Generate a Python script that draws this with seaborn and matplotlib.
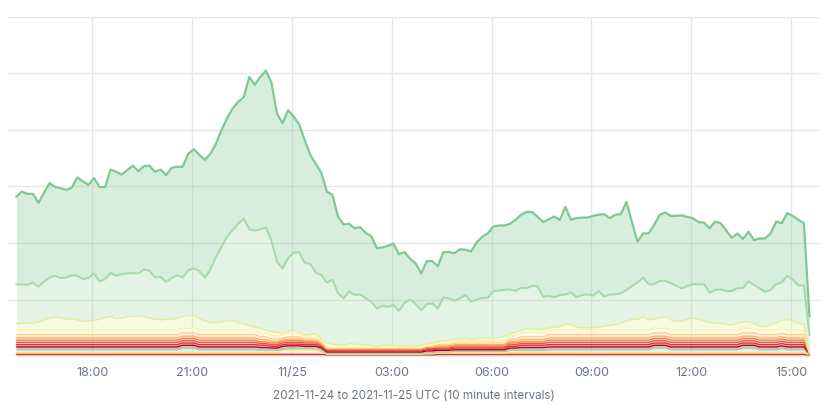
import numpy as np
import pandas as pd
import matplotlib
matplotlib.use("Agg")
import matplotlib.pyplot as plt
import matplotlib.dates as mdates
from matplotlib.ticker import FuncFormatter
import seaborn as sns

# 10 minute samples, 2021-11-24 15:43 -> 2021-11-25 15:33 UTC
times = pd.date_range("2021-11-24 15:43", periods=144, freq="10min")

# top line (all requests) and the second line
total = [
    282, 291, 287, 287, 271, 289, 306, 299, 297, 294, 298, 316,
    309, 303, 315, 299, 299, 330, 326, 321, 329, 337, 327, 336,
    337, 326, 330, 320, 333, 335, 335, 358, 366, 356, 347, 358,
    376, 400, 421, 438, 450, 458, 494, 480, 494, 505, 484, 429,
    412, 435, 424, 410, 382, 356, 340, 324, 291, 285, 247, 233,
    234, 226, 228, 218, 212, 191, 192, 195, 199, 180, 184, 172,
    164, 146, 168, 168, 159, 184, 184, 182, 189, 188, 185, 201,
    211, 217, 229, 231, 231, 234, 241, 250, 255, 255, 246, 237,
    242, 247, 241, 264, 241, 244, 245, 245, 248, 250, 251, 244,
    250, 251, 273, 237, 202, 217, 217, 232, 250, 254, 248, 248,
    249, 246, 244, 237, 236, 226, 238, 235, 222, 209, 217, 207,
    220, 205, 208, 208, 217, 238, 235, 253, 248, 241, 235, 70,
]
second = [
    127, 127, 126, 130, 123, 132, 139, 142, 138, 139, 143, 142,
    136, 138, 146, 132, 136, 147, 142, 145, 146, 147, 146, 153,
    151, 139, 140, 131, 138, 143, 139, 152, 155, 150, 139, 153,
    176, 193, 211, 223, 234, 243, 224, 222, 224, 228, 204, 167,
    155, 173, 183, 184, 165, 163, 148, 143, 130, 135, 111, 102,
    114, 108, 109, 102, 96, 84, 89, 87, 90, 80, 94, 100,
    92, 81, 92, 93, 84, 104, 102, 98, 102, 108, 96, 100,
    103, 103, 115, 116, 117, 118, 115, 121, 120, 124, 123, 105,
    106, 104, 108, 109, 113, 104, 108, 109, 107, 115, 105, 109,
    109, 111, 117, 124, 130, 139, 127, 127, 133, 133, 129, 124,
    120, 124, 127, 127, 127, 112, 117, 118, 115, 115, 120, 120,
    132, 126, 120, 114, 117, 127, 130, 142, 135, 125, 125, 37,
]

# thin buckets at the bottom, stacked bottom -> top
b01 = [
    3, 3, 3, 3, 3, 3, 3, 3, 3, 3, 3, 3,
    3, 3, 3, 3, 3, 3, 3, 3, 3, 3, 3, 3,
    3, 3, 3, 3, 3, 3, 3, 3, 3, 3, 3, 3,
    3, 3, 3, 3, 3, 3, 3, 3, 3, 3, 3, 3,
    3, 3, 3, 3, 3, 3, 3, 3, 2, 2, 2, 2,
    2, 2, 2, 2, 2, 2, 2, 2, 2, 2, 2, 2,
    2, 2, 2, 2, 3, 3, 3, 3, 3, 3, 3, 3,
    3, 3, 3, 3, 3, 3, 3, 3, 3, 3, 3, 3,
    3, 3, 3, 3, 3, 3, 3, 3, 3, 3, 3, 3,
    3, 3, 3, 3, 3, 3, 3, 3, 3, 3, 3, 3,
    3, 3, 3, 3, 3, 3, 3, 3, 3, 3, 3, 3,
    3, 3, 3, 3, 3, 3, 3, 3, 3, 3, 3, 1,
]
b02 = [
    3, 3, 3, 3, 3, 3, 3, 3, 3, 3, 3, 3,
    3, 3, 3, 3, 3, 3, 3, 3, 3, 3, 3, 3,
    3, 3, 3, 3, 3, 3, 3, 3, 3, 3, 3, 3,
    3, 3, 3, 3, 3, 3, 3, 3, 3, 3, 3, 3,
    7, 8, 8, 8, 8, 8, 8, 5, 1, 1, 1, 1,
    1, 1, 1, 1, 1, 1, 1, 1, 1, 1, 1, 1,
    1, 1, 2, 2, 2, 2, 2, 2, 2, 2, 2, 2,
    2, 2, 2, 2, 2, 3, 3, 3, 3, 3, 3, 3,
    3, 3, 3, 3, 3, 3, 3, 3, 3, 3, 3, 3,
    3, 3, 3, 3, 3, 3, 3, 3, 3, 3, 3, 3,
    3, 3, 3, 3, 3, 3, 3, 3, 3, 3, 3, 3,
    3, 3, 3, 3, 3, 3, 3, 3, 3, 3, 3, 1,
]
b03 = [
    5, 5, 5, 5, 5, 5, 5, 5, 5, 5, 5, 5,
    5, 5, 5, 5, 5, 5, 5, 5, 5, 5, 5, 5,
    5, 5, 5, 5, 5, 5, 8, 8, 8, 5, 5, 5,
    5, 5, 5, 5, 5, 5, 5, 5, 4, 4, 4, 4,
    2, 2, 2, 2, 2, 2, 2, 2, 1, 1, 1, 1,
    1, 1, 1, 1, 1, 1, 1, 1, 1, 1, 1, 1,
    1, 1, 2, 2, 2, 2, 2, 3, 3, 3, 3, 3,
    3, 3, 3, 3, 3, 4, 4, 4, 4, 4, 4, 4,
    5, 5, 5, 5, 5, 5, 5, 5, 5, 5, 5, 5,
    5, 5, 5, 5, 5, 5, 5, 8, 8, 8, 5, 5,
    5, 5, 5, 5, 5, 5, 5, 5, 5, 5, 5, 8,
    8, 8, 5, 5, 5, 5, 7, 5, 5, 5, 5, 1,
]
b04 = [
    5, 5, 5, 5, 5, 5, 5, 5, 5, 5, 5, 5,
    5, 5, 5, 5, 5, 5, 5, 5, 5, 5, 5, 5,
    5, 5, 5, 5, 5, 5, 5, 5, 5, 5, 5, 5,
    5, 5, 5, 5, 5, 5, 5, 5, 5, 5, 4, 4,
    5, 5, 5, 5, 4, 4, 4, 4, 3, 3, 3, 3,
    3, 3, 3, 3, 3, 3, 3, 3, 3, 3, 3, 3,
    3, 3, 3, 3, 3, 3, 3, 3, 3, 3, 3, 3,
    3, 3, 3, 3, 3, 4, 4, 5, 5, 5, 5, 5,
    5, 5, 5, 5, 5, 5, 5, 5, 5, 5, 5, 5,
    5, 5, 5, 5, 5, 5, 5, 5, 5, 5, 5, 5,
    5, 5, 5, 5, 5, 5, 5, 5, 5, 5, 5, 5,
    5, 5, 5, 5, 5, 5, 5, 5, 5, 5, 5, 1,
]
b05 = [
    4, 4, 4, 4, 4, 4, 4, 4, 4, 4, 4, 4,
    4, 4, 4, 4, 4, 4, 4, 4, 4, 4, 4, 4,
    4, 4, 4, 4, 4, 4, 4, 4, 4, 4, 4, 4,
    4, 4, 4, 4, 4, 4, 4, 4, 4, 4, 3, 3,
    3, 3, 3, 3, 3, 3, 3, 2, 2, 2, 2, 2,
    2, 2, 2, 2, 2, 2, 2, 2, 2, 2, 2, 2,
    2, 2, 2, 2, 2, 2, 2, 3, 3, 3, 3, 3,
    3, 3, 3, 3, 3, 3, 3, 4, 4, 4, 4, 4,
    4, 4, 4, 4, 4, 4, 4, 4, 4, 4, 4, 4,
    4, 4, 4, 4, 4, 4, 4, 4, 4, 4, 4, 4,
    4, 4, 4, 4, 4, 4, 4, 4, 4, 4, 4, 4,
    4, 4, 4, 4, 4, 4, 4, 4, 4, 4, 4, 1,
]
b06 = [
    4, 4, 4, 4, 4, 4, 4, 4, 4, 4, 4, 4,
    4, 4, 4, 4, 4, 4, 4, 4, 4, 4, 4, 4,
    4, 4, 4, 4, 4, 4, 4, 4, 4, 4, 4, 4,
    4, 4, 4, 4, 4, 4, 4, 4, 3, 3, 3, 3,
    3, 3, 3, 3, 3, 3, 3, 2, 2, 2, 2, 2,
    2, 2, 2, 2, 2, 2, 2, 2, 2, 2, 2, 2,
    2, 2, 2, 2, 2, 2, 2, 2, 2, 2, 2, 2,
    2, 2, 2, 2, 2, 3, 3, 3, 3, 3, 3, 3,
    4, 4, 4, 4, 4, 4, 4, 4, 4, 4, 4, 4,
    4, 4, 4, 4, 4, 4, 4, 4, 4, 4, 4, 4,
    4, 4, 4, 4, 4, 4, 4, 4, 4, 4, 4, 4,
    4, 4, 4, 4, 4, 4, 4, 4, 4, 4, 4, 0,
]
b07 = [
    4, 4, 4, 4, 4, 4, 4, 4, 4, 4, 4, 4,
    4, 4, 4, 4, 4, 4, 4, 4, 4, 4, 4, 4,
    4, 4, 4, 4, 4, 4, 4, 4, 4, 4, 4, 4,
    4, 4, 4, 4, 4, 4, 4, 4, 3, 3, 3, 3,
    3, 3, 3, 3, 2, 2, 2, 2, 1, 1, 1, 1,
    1, 1, 1, 1, 1, 1, 1, 1, 1, 1, 1, 1,
    1, 1, 2, 2, 2, 2, 2, 2, 2, 2, 2, 2,
    2, 2, 2, 2, 2, 3, 3, 3, 3, 3, 3, 3,
    4, 4, 4, 4, 4, 4, 4, 4, 4, 4, 4, 4,
    4, 4, 4, 4, 4, 4, 4, 4, 4, 4, 4, 4,
    4, 4, 4, 4, 4, 4, 4, 4, 4, 4, 4, 4,
    4, 4, 4, 4, 4, 4, 4, 4, 4, 4, 4, 0,
]
b08 = [
    4, 4, 4, 4, 4, 4, 4, 4, 4, 4, 4, 4,
    4, 4, 4, 4, 4, 4, 4, 4, 4, 4, 4, 4,
    4, 4, 4, 4, 4, 4, 4, 4, 4, 4, 4, 4,
    4, 4, 4, 4, 4, 4, 4, 4, 4, 4, 3, 3,
    3, 3, 3, 3, 2, 2, 2, 2, 1, 1, 1, 1,
    1, 1, 1, 1, 1, 1, 1, 1, 1, 1, 1, 1,
    1, 1, 1, 1, 2, 2, 2, 2, 2, 2, 2, 2,
    2, 2, 2, 2, 2, 3, 3, 4, 4, 4, 4, 4,
    4, 4, 4, 4, 4, 4, 4, 4, 4, 4, 4, 4,
    4, 4, 4, 4, 4, 4, 4, 4, 4, 4, 4, 4,
    4, 4, 4, 4, 4, 4, 4, 4, 4, 4, 4, 4,
    4, 4, 4, 4, 4, 4, 4, 4, 4, 4, 4, 0,
]
b09 = [
    6, 6, 6, 6, 6, 6, 6, 6, 6, 6, 6, 6,
    6, 6, 6, 6, 6, 6, 6, 6, 6, 6, 6, 6,
    6, 6, 6, 6, 6, 6, 6, 6, 6, 6, 6, 6,
    6, 6, 6, 6, 6, 6, 6, 6, 5, 5, 4, 4,
    3, 4, 4, 4, 3, 3, 3, 2, 1, 1, 1, 1,
    1, 1, 1, 1, 1, 1, 1, 1, 1, 1, 1, 1,
    1, 1, 1, 1, 2, 2, 2, 3, 3, 3, 3, 3,
    3, 3, 3, 3, 3, 4, 4, 5, 5, 5, 5, 5,
    6, 6, 6, 6, 6, 6, 6, 6, 6, 6, 6, 6,
    6, 6, 6, 6, 6, 6, 6, 6, 6, 6, 6, 6,
    6, 6, 6, 6, 6, 6, 6, 6, 6, 6, 6, 6,
    6, 6, 6, 6, 6, 6, 6, 6, 6, 6, 6, 0,
]
b10 = [
    8, 8, 8, 8, 8, 8, 8, 8, 8, 8, 8, 8,
    8, 8, 8, 8, 8, 8, 8, 8, 8, 8, 8, 8,
    8, 8, 8, 8, 8, 8, 8, 8, 8, 8, 8, 8,
    8, 8, 8, 8, 8, 8, 8, 8, 7, 7, 6, 6,
    5, 6, 6, 5, 4, 4, 4, 3, 1, 1, 1, 1,
    1, 1, 1, 1, 1, 1, 1, 1, 1, 1, 1, 1,
    1, 1, 2, 2, 3, 3, 3, 4, 4, 4, 4, 4,
    4, 4, 4, 4, 4, 6, 6, 7, 7, 7, 7, 7,
    8, 8, 8, 8, 8, 8, 8, 8, 8, 8, 8, 8,
    8, 8, 8, 8, 8, 8, 8, 8, 8, 8, 8, 8,
    8, 8, 8, 8, 8, 8, 8, 8, 8, 8, 8, 8,
    8, 8, 8, 8, 8, 8, 8, 8, 8, 8, 8, 1,
]
b11 = [
    11, 12, 12, 12, 14, 18, 21, 23, 21, 19, 20, 18,
    15, 16, 17, 19, 22, 24, 20, 21, 24, 24, 25, 24,
    21, 19, 18, 19, 19, 21, 21, 22, 23, 20, 16, 13,
    13, 14, 16, 17, 13, 11, 8, 5, 8, 5, 7, 6,
    3, 4, 6, 3, 3, 4, 5, 3, 8, 6, 5, 4,
    7, 6, 5, 4, 4, 2, 4, 4, 4, 3, 3, 2,
    3, 4, 2, 4, 3, 4, 5, 3, 4, 4, 3, 4,
    5, 5, 5, 6, 8, 3, 6, 5, 8, 7, 6, 7,
    4, 5, 6, 11, 9, 5, 4, 4, 4, 5, 7, 8,
    10, 12, 16, 19, 19, 23, 18, 16, 19, 21, 18, 15,
    16, 19, 21, 19, 16, 13, 12, 12, 10, 9, 12, 11,
    12, 8, 7, 6, 9, 13, 15, 19, 16, 12, 9, 1,
]

buckets = [b01, b02, b03, b04, b05, b06, b07, b08, b09, b10, b11]
bucket_colors = ["#d73027", "#fee08b", "#9ed69a", "#a50026", "#d73027", "#e8553f",
                 "#f47a4f", "#fdae61", "#fdcf8f", "#fff2a8", "#e1ee9a"]
second_color = "#a6dba8"
top_color = "#80c891"

sns.set_theme(style="whitegrid")
plt.rcParams["font.family"] = ["Inter", "DejaVu Sans"]

fig = plt.figure(figsize=(8.22, 4.16), dpi=100)
ax = fig.add_axes([8 / 822, 60 / 416, 812 / 822, 339 / 416])

# stack the thin buckets
lower = np.zeros(len(times))
tops = []
for vals, color in zip(buckets, bucket_colors):
    upper = lower + np.array(vals)
    ax.fill_between(times, lower, upper, color=color, alpha=0.28, lw=0)
    tops.append((upper, color))
    lower = upper

ax.fill_between(times, lower, second, color=second_color, alpha=0.3, lw=0)
ax.fill_between(times, second, total, color=top_color, alpha=0.3, lw=0)

for upper, color in tops:
    sns.lineplot(x=times, y=upper, color=color, lw=0.95, ax=ax, legend=False)
sns.lineplot(x=times, y=second, color=second_color, lw=1.5, ax=ax, legend=False)
sns.lineplot(x=times, y=total, color=top_color, lw=1.6, ax=ax, legend=False)

ax.set_xlim(pd.Timestamp("2021-11-24 15:28"), pd.Timestamp("2021-11-25 15:52"))
ax.set_ylim(0, 600)
ax.set_yticks(range(0, 700, 100))
ax.set_yticklabels([])

ax.xaxis.set_major_locator(mdates.HourLocator(byhour=range(0, 24, 3)))


def fmt_tick(x, pos):
    d = mdates.num2date(x)
    if d.hour == 0:
        return d.strftime("%m/%d")
    return d.strftime("%H:%M")


ax.xaxis.set_major_formatter(FuncFormatter(fmt_tick))
ax.grid(True, color="#e7e7e7", lw=1.0)
for s in ax.spines.values():
    s.set_visible(False)
ax.tick_params(axis="both", length=0)
ax.tick_params(axis="x", pad=8, labelsize=9.0, labelcolor="#6b7585")
ax.set_xlabel("2021-11-24 to 2021-11-25 UTC (10 minute intervals)",
              fontsize=8.4, color="#6b7585", labelpad=8)
ax.set_ylabel("")

fig.savefig("out.png", dpi=100)
